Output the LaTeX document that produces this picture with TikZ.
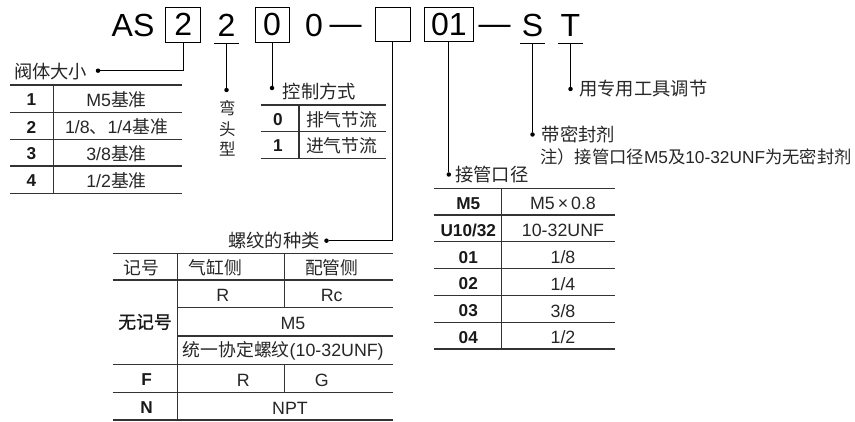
\documentclass[tikz,border=0pt]{standalone}
\usepackage{fontspec}
\setmainfont{Liberation Sans}
\newfontfamily\cjk{Noto Sans CJK SC}
\newfontfamily\cjkbold[FakeBold=1.1]{Noto Sans CJK SC}
\usetikzlibrary{calc}

\begin{document}
\begin{tikzpicture}[
        x=1pt, y=-1pt,
        codefont/.style={font=\fontsize{32}{32}\selectfont},
        codebox/.style={draw, line width=0.9pt, inner sep=0pt, minimum height=35pt, codefont},
        codeline/.style={inner ysep=6.6pt, inner xsep=0pt, codefont},
        dot/.style={circle, fill, inner sep=0pt, minimum size=4.5pt},
        leader/.style={line width=1pt},
        tline/.style={line width=1.25pt, black!80},
        lbl/.style={inner sep=0pt, text=black!85, font=\cjk\fontsize{18.3}{18.3}\selectfont},
        cell/.style={inner sep=0pt, text=black!85, font=\fontsize{17.8}{17.8}\selectfont},
        key/.style={inner sep=0pt, text=black!90, font=\bfseries\fontsize{17.2}{17.2}\selectfont},
    ]

    \useasboundingbox (0,0) rectangle (855,422);

    % model code
    \node[codefont, inner sep=0pt, anchor=base west] (as) at (111.5,36.7) {AS};
    \node[codebox, minimum width=35pt] (size) at (183.2,24.8) {2};
    \node[codeline, minimum width=25pt, anchor=base] (bend) at (226.5,36.7) {2};
    \node[codebox, minimum width=34pt] (ctrl) at (272,24.8) {0};
    \node[codefont, inner sep=0pt, anchor=base] (zero) at (314,36.7) {0};
    \node[codefont, inner sep=0pt, anchor=base] (dashA) at (345.5,34.7) {—};
    \node[codebox, minimum width=35pt, minimum height=34.4pt] (thread) at (392.5,24.5) {};
    \node[codebox, minimum width=49pt, minimum height=34.4pt] (port) at (448.8,24.5) {01};
    \node[codefont, inner sep=0pt, anchor=base] (dashB) at (494.5,34.7) {—};
    \node[codeline, minimum width=25pt, anchor=base] (seal) at (532.5,36.7) {S};
    \node[codeline, minimum width=25pt, anchor=base] (tool) at (570.5,36.7) {T};

    \foreach \n in {bend, seal, tool}
        \draw[line width=1pt] (\n.south west) -- (\n.south east);

    % leaders
    \node[dot] (dsize) at (98,70.7) {};
    \node[dot] (dbend) at (bend.south |- 0,90) {};
    \node[dot] (dctrl) at (ctrl.south |- 0,88) {};
    \node[dot] (dthread) at (326.5,240.7) {};
    \node[dot] (dport) at (port.south |- 0,174.5) {};
    \node[dot] (dseal) at (seal.south |- 0,134.5) {};
    \node[dot] (dtool) at (tool.south |- 0,89) {};

    \draw[leader] (size.south) |- (dsize);
    \draw[leader] (bend.south) -- (dbend);
    \draw[leader] (ctrl.south) -- (dctrl);
    \draw[leader] (thread.south) |- (dthread);
    \draw[leader] (port.south) -- (dport);
    \draw[leader] (seal.south) -- (dseal);
    \draw[leader] (tool.south) -- (dtool);

    % labels
    \node[lbl, anchor=east] (lsize) at (87.5,72) {阀体大小};
    \node[lbl, align=center, font=\cjk\fontsize{16.5}{20.3}\selectfont] (lbend) at (227.3,128.5) {弯\\头\\型};
    \node[lbl, anchor=west] (lctrl) at (282.7,92) {控制方式};
    \node[lbl, anchor=east] (lthread) at (320,241) {螺纹的种类};
    \node[lbl, anchor=west] (lport) at (455,175) {接管口径};
    \node[lbl, anchor=west] (lseal) at (541.5,134.5) {带密封剂};
    \node[lbl, anchor=west, font=\cjk\fontsize{17.3}{17.3}\selectfont] (lnote) at (540,157) {注）接管口径{\rmfamily M5}及{\rmfamily 10-32UNF}为无密封剂};
    \node[lbl, anchor=west] (ltool) at (579,89) {用专用工具调节};

    % body size table
    \foreach \y in {85, 112.3, 139.3, 166, 193.3}
        \draw[tline] (10,\y) -- (181.7,\y);
    \draw[tline] (53.3,85) -- (53.3,193.3);
    \foreach \k/\t [count=\i] in {1/{M5{\cjk 基准}}, 2/{1/8{\cjk 、}1/4{\cjk 基准}},
                                  3/{3/8{\cjk 基准}}, 4/{1/2{\cjk 基准}}} {
        \node[key] (sk\i) at (31.5, 73+27*\i) {\k};
        \node[cell] (sv\i) at (116.5, 73+27*\i) {\t};
    }

    % control table
    \foreach \y in {105, 131.7, 158.3}
        \draw[tline] (260.7,\y) -- (386,\y);
    \draw[tline] (299,105) -- (299,158.3);
    \node[key] (ck1) at (278,119.5) {0};
    \node[cell] (cv1) at (341.7,119.5) {\cjk 排气节流};
    \node[key] (ck2) at (278,146) {1};
    \node[cell] (cv2) at (341.7,146) {\cjk 进气节流};

    % thread table
    \foreach \y in {253.3, 280, 364.3, 392.3, 420}
        \draw[tline] (112.7,\y) -- (393.3,\y);
    \foreach \y in {307.3, 336}
        \draw[tline] (177.3,\y) -- (393.3,\y);
    \draw[tline] (177.3,253.3) -- (177.3,420);
    \draw[tline] (284.5,253.3) -- (284.5,307.3);
    \draw[tline] (284.5,364.3) -- (284.5,392.3);
    \node[cell] (th1) at (141.7,268) {\cjk 记号};
    \node[cell] (th2) at (215.5,268) {\cjk 气缸侧};
    \node[cell] (th3) at (331.7,268) {\cjk 配管侧};
    \node[cell] (tr1) at (222.7,295) {R};
    \node[cell] (tr2) at (331.7,295) {Rc};
    \node[cell, text=black!90] (tk1) at (145,322) {\cjkbold 无记号};
    \node[cell] (tm1) at (293,323) {M5};
    \node[cell] (tu1) at (283.3,351) {{\cjk 统一协定螺纹}(10-32UNF)};
    \node[key] (tk2) at (146.7,380) {F};
    \node[cell] (tf1) at (243.3,380) {R};
    \node[cell] (tf2) at (321.7,380) {G};
    \node[key] (tk3) at (146.7,408) {N};
    \node[cell] (tn1) at (290,408) {NPT};

    % port size table
    \foreach \i in {0,...,6}
        \draw[tline] (434, 188.3+26.78*\i) -- (615, 188.3+26.78*\i);
    \draw[tline] (501.7,188.3) -- (501.7,349);
    \foreach \k/\v [count=\i] in {M5/{M5\,×\,0.8}, {U10/32}/{10-32UNF}, 01/{1/8},
                                  02/{1/4}, 03/{3/8}, 04/{1/2}} {
        \node[key] (pk\i) at (468.3, 176.9+26.78*\i) {\k};
        \node[cell] (pv\i) at (563, 176.9+26.78*\i) {\v};
    }

\end{tikzpicture}
\end{document}
